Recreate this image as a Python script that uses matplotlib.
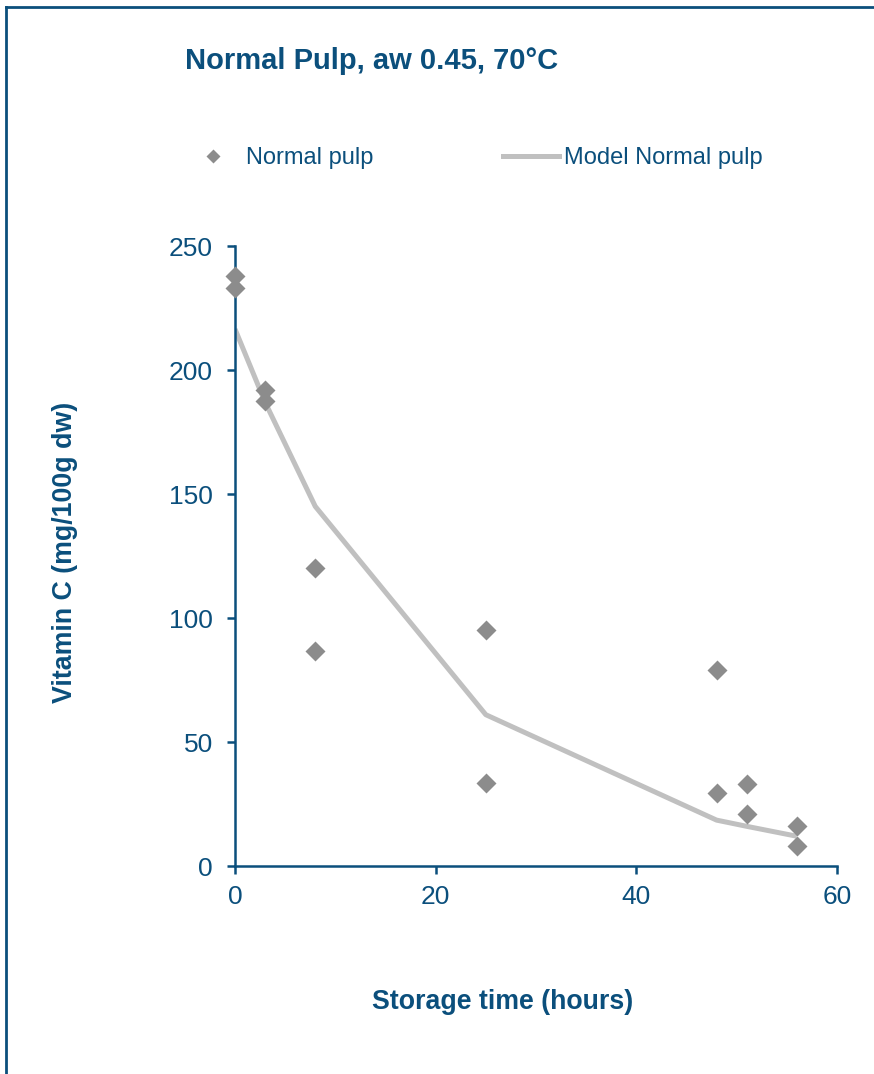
import numpy as np
import matplotlib
matplotlib.use('Agg')
import matplotlib.pyplot as plt
from matplotlib.lines import Line2D

plt.rcParams['font.family'] = ['Liberation Sans', 'DejaVu Sans']

# measured points
hours = [0, 0, 3, 3, 8, 8, 25, 25, 48, 48, 51, 51, 56, 56]
vitc = [238, 233, 192, 187.5, 120, 86.5, 95, 33.5, 79, 29.5, 33, 21, 16, 8]

# model curve
model_hours = [0, 3, 8, 25, 48, 51, 56]
model_vitc = [216.5, 187, 145, 61, 18.5, 16, 12]

xticks = [0, 20, 40, 60]
yticks = [0, 50, 100, 150, 200, 250]

navy = '#0b4f7c'

fig = plt.figure(figsize=(8.74, 10.74), dpi=100)
ax = fig.add_axes([235/874, 208/1074, 602/874, 620/1074])

ax.plot(model_hours, model_vitc, color='#c0c0c0', lw=3.6, solid_capstyle='butt',
        label='Model Normal pulp', zorder=2)
ax.plot(hours, vitc, ls='none', marker='D', ms=10, color='#8c8c8c', mec='none',
        label='Normal pulp', zorder=3, clip_on=False)

ax.set_xlim(0, 60)
ax.set_ylim(0, 250)
ax.set_xticks(xticks)
ax.set_yticks(yticks)
for s in ['top', 'right']:
    ax.spines[s].set_visible(False)
for s in ['left', 'bottom']:
    ax.spines[s].set_color(navy)
    ax.spines[s].set_linewidth(1.8)
ax.tick_params(colors=navy, labelsize=19, width=1.8, length=6, direction='out')
ax.tick_params(axis='y', pad=10)
ax.tick_params(axis='x', pad=8)

fig.text(185/874, 1 - 61/1074, 'Normal Pulp, aw 0.45, 70°C', color=navy,
         fontsize=21, fontweight='bold', va='center', ha='left')
fig.text(503/874, 1 - 1002/1074, 'Storage time (hours)', color=navy,
         fontsize=19.3, fontweight='bold', va='center', ha='center')
fig.text(65/874, 1 - 552/1074, 'Vitamin C (mg/100g dw)', color=navy,
         fontsize=19.3, fontweight='bold', va='center', ha='center', rotation=90)

# legend
h_pts = Line2D([], [], ls='none', marker='D', ms=7, color='#8c8c8c', mec='none')
h_line = Line2D([], [], color='#c0c0c0', lw=3.6)
leg = fig.legend([h_pts, h_line], ['Normal pulp', 'Model Normal pulp'],
                 loc='center left', bbox_to_anchor=(185/874, 1 - 158/1074),
                 ncol=2, frameon=False, fontsize=17, handlelength=2.37,
                 handletextpad=0.2, columnspacing=5.5, borderpad=0,
                 borderaxespad=0, labelcolor=navy)

# outer frame (left and top edges)
fig.add_artist(Line2D([6/874, 6/874], [0, 1 - 7/1074], color=navy, lw=2,
                      transform=fig.transFigure))
fig.add_artist(Line2D([6/874, 1], [1 - 7/1074, 1 - 7/1074], color=navy, lw=2,
                      transform=fig.transFigure))

fig.savefig('out.png', dpi=100)
